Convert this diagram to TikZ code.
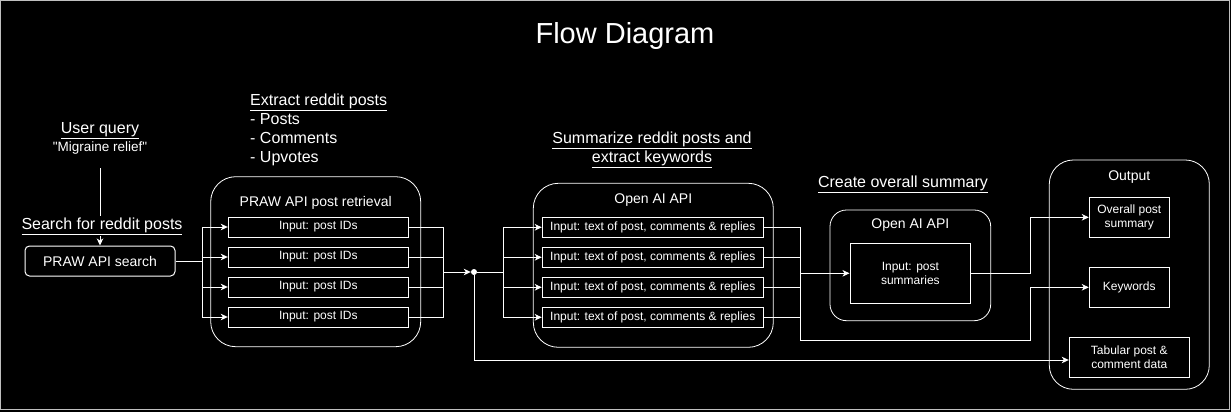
\documentclass[tikz,border=0pt]{standalone}
\usepackage{fontspec}
\setmainfont{Liberation Sans}[Ligatures=TeXOff]
\usetikzlibrary{arrows.meta}
\tikzset{
  f12/.style={font=\fontsize{12}{14.5}\selectfont},
  f13/.style={font=\fontsize{13.5}{16}\selectfont},
  f14/.style={font=\fontsize{14}{17}\selectfont},
  f16/.style={font=\fontsize{16}{19}\selectfont},
  txt/.style={inner sep=0pt, text=white},
  boxn/.style={draw=white, fill=black, line width=1pt, inner sep=0pt, text=white, align=center, f12},
  cont/.style={draw=white, fill=black, line width=0.8pt, inner sep=0pt},
  conn/.style={draw=white, line width=1pt},
  arr/.style={conn, -{Stealth[length=7pt,width=6.5pt,inset=2pt]}},
}
\begin{document}
\begin{tikzpicture}[x=1pt,y=-1pt]
\useasboundingbox (0,0) rectangle (1231,412);
\fill[black] (0,0) rectangle (1231,412);
\draw[white!75!black, line width=1pt] (0.5,0.5) rectangle (1229.5,409.5);

% title
\node[txt, font=\fontsize{29}{34}\selectfont] (title) at (625,36) {Flow Diagram};

% user query
\node[txt, f16] (uqT) at (100,131) {\underline{User query}};
\node[txt, f13] (uqQ) at (100,148) {"Migraine relief"};
\coordinate (uq) at (100,168);

% search
\node[boxn, f14, rounded corners=4.5pt, minimum width=150pt, minimum height=30pt] (praws) at (100,261) {PRAW API search};
\draw[arr] (uq) -- (praws.north);
\node[txt, f16, fill=black, inner sep=1.5pt] (searchL) at (102,226) {\underline{Search for reddit posts}};

% extract label
\node[txt, f16, anchor=west, align=left, fill=black] (extractL) at (250,129.5) {\underline{Extract reddit posts}\\- Posts\\- Comments\\- Upvotes};

% PRAW retrieval container
\node[cont, rounded corners=25pt, minimum width=210pt, minimum height=170pt] (retr) at (315.7,261.7) {};
\node[txt, f14] (retrT) at (315.7,203) {PRAW API post retrieval};
\foreach \i/\y in {1/227,2/257,3/287,4/317}{
  \node[boxn, minimum width=180pt, minimum height=20pt] (pid\i) at (318.3,\y) {Input: post IDs};
}

% Open AI container 1
\node[cont, rounded corners=25pt, minimum width=240pt, minimum height=164pt] (oac) at (653.3,265.3) {};
\node[txt, f14] (oacT) at (653.3,200) {Open AI API};
\foreach \i/\y in {1/227.3,2/257.3,3/287.3,4/317.3}{
  \node[boxn, minimum width=221pt, minimum height=20pt] (oa\i) at (652.8,\y) {Input: text of post, comments \& replies};
}
\node[txt, f16, align=center] (sumL) at (652,150) {\underline{Summarize reddit posts and}\\[-0.4pt]\underline{extract keywords}};

% Open AI container 2
\node[txt, f16] (createL) at (903,184) {\underline{Create overall summary}};
\node[cont, rounded corners=16.5pt, minimum width=160.7pt, minimum height=110.7pt] (oac2) at (910.35,265.35) {};
\node[txt, f14] (oac2T) at (910.35,225) {Open AI API};
\node[boxn, minimum width=120.7pt, minimum height=60pt] (ps) at (910.35,273.3) {Input: post\\summaries};

% Output container
\node[cont, rounded corners=24pt, minimum width=160pt, minimum height=229.3pt] (outc) at (1129.3,274.65) {};
\node[txt, f14] (outT) at (1129.3,177) {Output};
\node[boxn, minimum width=80pt, minimum height=40pt] (ops) at (1129.3,217.3) {Overall post\\summary};
\node[boxn, minimum width=80pt, minimum height=40pt] (kw) at (1129.3,287.3) {Keywords};
\node[boxn, minimum width=120pt, minimum height=40pt] (tab) at (1129.3,357.3) {Tabular post \&\\comment data};

% connectors: search -> post IDs
\coordinate (b1) at (202,261);
\draw[conn] (praws.east) -- (b1);
\foreach \i in {1,...,4}{ \draw[arr] (b1) |- (pid\i.west); }

% merge post IDs
\coordinate (m1) at (443,272);
\node[circle, fill=white, inner sep=0pt, minimum size=6pt] (dot) at (474,272) {};
\foreach \i in {1,...,4}{ \draw[conn] (pid\i.east) -| (m1); }
\draw[arr] (m1) -- (dot.west);

% to Open AI boxes
\coordinate (b2) at (503,272);
\draw[conn] (dot.east) -- (b2);
\foreach \i in {1,...,4}{ \draw[arr] (b2) |- (oa\i.west); }

% to tabular
\draw[arr] (dot.south) |- ([yshift=-2.7pt]tab.west);

% merge Open AI outputs
\coordinate (m2) at (800,273.3);
\coordinate (m3) at (800,340);
\draw[conn] (oa1.east) -| (m3);
\foreach \i in {2,3,4}{ \draw[conn] (oa\i.east) -| (m2); }
\draw[arr] (m2) -- (ps.west);
\coordinate (k1) at (1030,340);
\draw[arr] (m3) -- (k1) |- (kw.west);
\coordinate (s1) at (1030,273.3);
\draw[arr] (ps.east) -- (s1) |- (ops.west);
\end{tikzpicture}
\end{document}
